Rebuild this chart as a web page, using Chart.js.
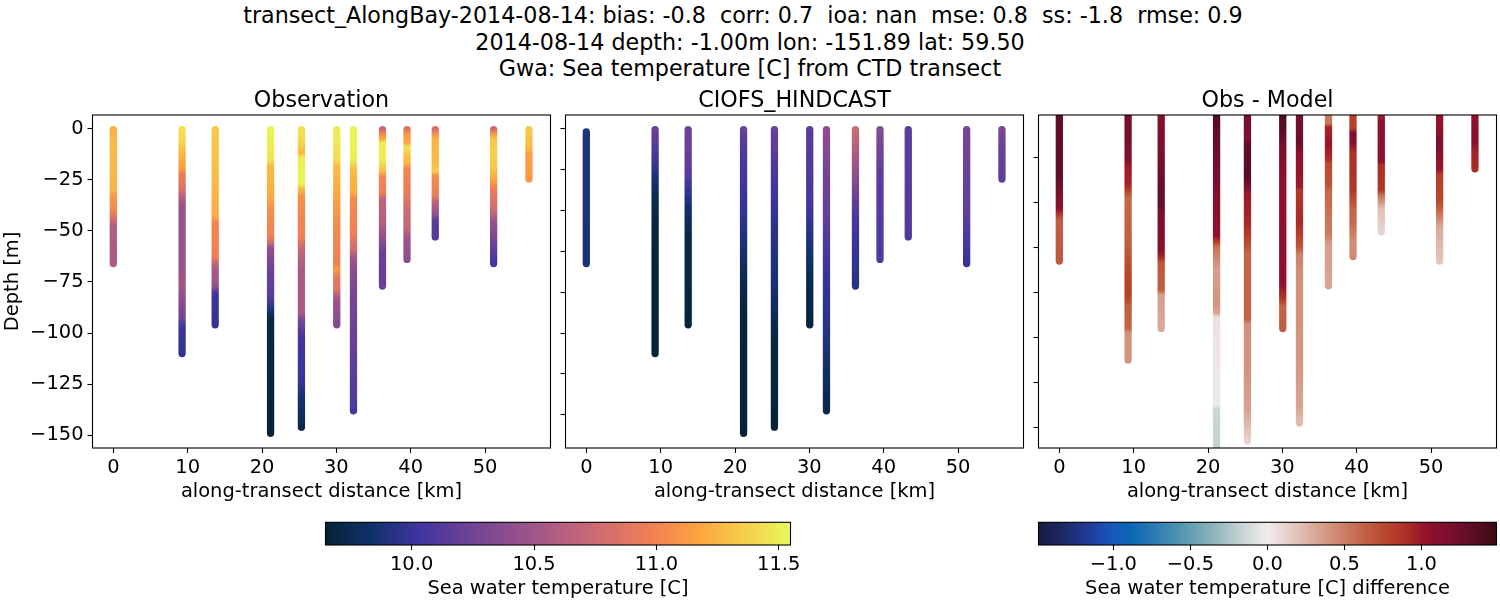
<!DOCTYPE html>
<html>
<head>
<meta charset="utf-8">
<title>transect_AlongBay</title>
<script src="https://cdn.jsdelivr.net/npm/chart.js"></script>
<style>
    body { margin: 0; background: #fff; width: 1500px; height: 600px; overflow: hidden; position: relative; }
    canvas { position: absolute; }
    #suptitle { position: absolute; left: 0; top: 2px; width: 1500px; text-align: center; white-space: pre;
        font: 22.22px/26.6px "DejaVu Sans", sans-serif; color: #000; }
</style>
</head>
<body>
<div id="suptitle">transect_AlongBay-2014-08-14: bias: -0.8  corr: 0.7  ioa: nan  mse: 0.8  ss: -1.8  rmse: 0.9  
2014-08-14 depth: -1.00m lon: -151.89 lat: 59.50
Gwa: Sea temperature [C] from CTD transect</div>
<canvas id="obs" width="552" height="418" style="left:0;top:86px"></canvas>
<canvas id="model" width="465" height="418" style="left:560px;top:86px"></canvas>
<canvas id="diff" width="465" height="418" style="left:1033px;top:86px"></canvas>
<canvas id="cbTemp" width="520" height="86" style="left:300px;top:515px"></canvas>
<canvas id="cbDiff" width="485" height="86" style="left:1015px;top:515px"></canvas>
<script>
// station positions along the transect [km]
const stationKm = [0, 9.25, 13.7, 21.15, 25.3, 30.05, 32.3, 36.2, 39.5, 43.3, 51.15, 55.9];

const xTicks = [0, 10, 20, 30, 40, 50];
const obsYTicks = [0, -25, -50, -75, -100, -125, -150];
const modelYTicks = [0, -20, -40, -60, -80, -100, -120, -140];
const diffYTicks = [-20, -40, -60, -80, -100, -120, -140];
const tempTicks = [10.0, 10.5, 11.0, 11.5];
const diffTicks = [-1.0, -0.5, 0.0, 0.5, 1.0];

const tempRange = [9.648, 11.548];
const diffRange = [-1.486, 1.487];

// colormaps (evenly spaced)
const thermalColors = ['#042333', '#10316b', '#3f35a0', '#6a4196', '#8f4f8d', '#b25e82', '#d26e6e', '#f17f54', '#fca33f', '#f6cd4c', '#e8fa5b'];
const balanceColors = ['#181c43', '#1d2862', '#20388f', '#1b52b8', '#0c66b8', '#2a7ab2', '#4a90b2', '#75a6b6', '#9fbcc2', '#cdd6d8', '#f1ecec',
    '#e6ccc4', '#d9aa9a', '#cf8a72', '#c4694b', '#ba4a2f', '#ae3025', '#93102e', '#78102e', '#5a0d24', '#3c0912'];

// Observation: depth [m] and temperature [C] read per station
const obsDepth = [
    [-0.5, -7, -30, -33, -40, -45, -47, -66],
    [-0.5, -7, -13, -19.5, -22, -30, -33, -37.5, -69, -77, -86, -93, -96, -102, -110],
    [-0.5, -7, -23.5, -43, -45.5, -62.7, -66, -69, -77, -80.5, -85, -96],
    [-0.5, -15.4, -18.6, -33, -40, -53, -57, -58, -66, -71, -82, -87, -89.5, -93.5, -149],
    [-0.5, -7, -11.5, -14.5, -27, -29, -33.5, -53, -59.5, -69, -90, -93.5, -102, -125, -130, -141, -146],
    [-0.5, -15.4, -18.6, -31.7, -44.8, -66, -69, -72.5, -79, -83, -96],
    [-0.5, -15.4, -20, -31.7, -34, -51, -59.5, -63, -69, -79, -102, -134.5, -138],
    [-0.5, -3, -5.5, -7, -15.4, -21, -23.5, -31.7, -34, -46, -56, -61, -72.5, -77],
    [-0.5, -2.4, -7, -9, -13, -17, -19.5, -31.7, -40, -49, -53, -61, -64],
    [-0.5, -2.4, -5.6, -17, -21, -22.7, -33, -36, -41.5, -45, -53],
    [-0.5, -1.5, -5, -12, -20, -26, -29, -40, -46, -53, -63, -66],
    [-0.5, -4, -10.5, -12, -24.7]
];
const obsTemp = [
    [11.22, 11.27, 11.25, 11.12, 11.02, 10.75, 10.6, 10.55],
    [11.45, 11.38, 11.24, 11.14, 10.97, 10.8, 10.65, 10.45, 10.45, 10.5, 10.35, 10.25, 10.05, 10.0, 9.98],
    [11.34, 11.32, 11.28, 11.2, 11.02, 10.97, 10.7, 10.55, 10.45, 10.05, 10.0, 9.98],
    [11.53, 11.45, 11.28, 11.2, 11.06, 10.97, 10.65, 10.45, 10.3, 10.2, 10.15, 9.98, 9.85, 9.7, 9.68],
    [11.45, 11.4, 11.25, 11.5, 11.52, 11.32, 11.07, 10.97, 10.7, 10.55, 10.55, 10.3, 10.05, 10.0, 9.88, 9.78, 9.72],
    [11.5, 11.42, 11.28, 11.2, 11.05, 10.97, 11.12, 10.9, 10.85, 10.5, 10.35],
    [11.52, 11.5, 11.28, 11.2, 11.04, 10.97, 10.75, 10.5, 10.4, 10.3, 10.22, 10.1, 10.05],
    [10.75, 11.05, 11.24, 11.5, 11.48, 11.28, 11.02, 10.97, 10.7, 10.6, 10.35, 10.22, 10.2, 10.2],
    [10.85, 11.1, 11.18, 11.45, 11.32, 11.24, 11.02, 10.92, 10.75, 10.7, 10.5, 10.45, 10.4],
    [10.8, 11.05, 11.24, 11.28, 11.36, 11.07, 10.92, 10.65, 10.45, 10.15, 10.12],
    [10.75, 11.0, 11.32, 11.38, 11.32, 11.14, 10.97, 10.75, 10.45, 10.3, 10.1, 10.05],
    [11.34, 11.32, 11.26, 11.16, 11.12]
];

// CIOFS_HINDCAST
const modelDepth = [
    [-1.6, -66],
    [-0.5, -10.5, -17, -23.5, -33, -45, -56, -110],
    [-0.5, -12, -23.5, -30, -40, -53, -72.5, -96],
    [-0.5, -7, -23.5, -40, -56, -72.5, -90, -149],
    [-0.5, -15, -32, -48, -72.5, -100, -146],
    [-0.5, -30, -40, -48, -61, -72.5, -96],
    [-0.5, -10.5, -23.5, -40, -56, -72.5, -100, -120, -138],
    [-0.5, -7, -20, -32, -43, -56, -72.5, -77],
    [-0.5, -10.5, -23.5, -64],
    [-0.5, -30, -53],
    [-0.5, -23.5, -40, -56, -66],
    [-0.5, -10, -24.7]
];
const modelTemp = [
    [9.9, 9.88],
    [10.22, 10.1, 10.0, 9.88, 9.76, 9.7, 9.67, 9.66],
    [10.25, 10.2, 10.12, 9.98, 9.82, 9.72, 9.7, 9.67],
    [10.22, 10.12, 10.05, 9.98, 9.88, 9.75, 9.68, 9.65],
    [10.22, 10.12, 10.02, 9.95, 9.88, 9.7, 9.66],
    [10.15, 10.08, 10.03, 9.95, 9.85, 9.75, 9.68],
    [10.4, 10.35, 10.25, 10.2, 10.1, 10.0, 9.92, 9.8, 9.72],
    [10.75, 10.65, 10.45, 10.25, 10.08, 10.0, 9.95, 9.92],
    [10.35, 10.27, 10.15, 10.1],
    [10.15, 10.13, 10.1],
    [10.28, 10.22, 10.18, 10.06, 9.98],
    [10.3, 10.22, 10.15]
];

// Obs - Model
const diffDepth = [
    [-0.5, -10, -26.5, -37, -43, -45.5, -47.8, -66],
    [-0.5, -21, -24, -32, -34.5, -38, -58, -73, -81.8, -86, -96, -98, -110],
    [-0.5, -13.7, -28.5, -40, -46, -61, -64, -67, -79, -81, -96],
    [-0.5, -8, -18, -28, -40, -55, -57, -60, -70, -85, -89, -91, -115, -130, -132, -150],
    [-0.5, -11, -15, -28, -33, -36, -49, -58, -62, -92, -94, -115, -132, -146],
    [-0.5, -8, -14, -28, -43, -58, -73, -76, -80, -83.5, -86, -96],
    [-0.5, -13.7, -18, -33, -34.5, -49, -54, -60, -63, -73, -115, -131, -138],
    [-0.5, -5, -6.5, -13.7, -21, -22.5, -33, -34.5, -55, -58, -77],
    [-0.5, -7, -9, -13.7, -18, -34.5, -43, -49, -58, -64],
    [-0.5, -4, -13.7, -22, -23, -34.5, -37, -43, -53],
    [-0.5, -8, -13.7, -18, -25, -28, -38.5, -43, -51, -66],
    [-0.5, -9, -13.7, -18, -25]
];
const diffValue = [
    [1.35, 1.3, 1.33, 1.15, 1.05, 0.8, 0.65, 0.68],
    [1.2, 1.15, 1.0, 0.95, 0.8, 0.6, 0.65, 0.78, 0.8, 0.65, 0.62, 0.4, 0.4],
    [1.1, 1.15, 1.25, 1.3, 1.15, 1.1, 0.95, 0.68, 0.65, 0.35, 0.3],
    [1.4, 1.3, 1.25, 1.2, 1.1, 1.05, 0.85, 0.55, 0.35, 0.4, 0.32, 0.05, 0.03, -0.02, -0.15, -0.18],
    [1.2, 1.15, 1.3, 1.35, 1.2, 1.0, 0.92, 0.75, 0.62, 0.62, 0.42, 0.4, 0.33, 0.12],
    [1.4, 1.35, 1.2, 1.08, 1.05, 1.08, 1.05, 1.05, 0.95, 0.8, 0.62, 0.65],
    [1.2, 1.25, 1.05, 1.0, 0.85, 0.92, 0.8, 0.68, 0.48, 0.42, 0.38, 0.32, 0.22],
    [0.5, 0.55, 0.95, 1.02, 0.9, 0.75, 0.68, 0.6, 0.5, 0.35, 0.32],
    [0.8, 0.8, 1.15, 1.1, 0.9, 0.85, 0.62, 0.58, 0.42, 0.45],
    [0.92, 1.1, 1.05, 1.1, 0.9, 0.85, 0.55, 0.2, 0.12],
    [1.02, 1.05, 1.2, 1.1, 1.02, 0.8, 0.78, 0.62, 0.3, 0.18],
    [1.05, 1.1, 1.08, 0.95, 0.92]
];

Chart.defaults.font.family = '"DejaVu Sans", sans-serif';
Chart.defaults.color = '#000';
Chart.defaults.animation = false;

// draws the black box around the plot area
const framePlugin = {
    id: 'frame',
    afterDatasetsDraw: function(chart) {
        const a = chart.chartArea;
        const ctx = chart.ctx;
        ctx.save();
        ctx.strokeStyle = '#000';
        ctx.lineWidth = 1.1;
        ctx.strokeRect(a.left, a.top, a.right - a.left, a.bottom - a.top);
        ctx.restore();
    }
};

function hexToRgb(hex) {
    return [1, 3, 5].map(i => parseInt(hex.substr(i, 2), 16));
}

function colorFor(value, range, colors) {
    const t = Math.min(1, Math.max(0, (value - range[0]) / (range[1] - range[0]))) * (colors.length - 1);
    const i = Math.min(colors.length - 2, Math.floor(t));
    const a = hexToRgb(colors[i]);
    const b = hexToRgb(colors[i + 1]);
    const c = a.map((v, k) => Math.round(v + (b[k] - v) * (t - i)));
    return `rgb(${c[0]},${c[1]},${c[2]})`;
}

function fixedTicks(values) {
    return function(scale) {
        scale.ticks = values.map(v => ({ value: v }));
    };
}

function minusLabel(decimals) {
    return function(value) {
        return value.toFixed(decimals).replace('-', '\u2212');
    };
}

// vertical gradient along one station, coloured through the chart's own y scale
function stationGradient(chart, depth, values, range, colors) {
    if (!chart.chartArea) return '#000';
    const y = chart.scales.y;
    const y0 = y.getPixelForValue(depth[0]);
    const y1 = y.getPixelForValue(depth[depth.length - 1]);
    const gradient = chart.ctx.createLinearGradient(0, y0, 0, y1);
    depth.forEach((d, i) => {
        const stop = (y.getPixelForValue(d) - y0) / (y1 - y0);
        gradient.addColorStop(stop, colorFor(values[i], range, colors));
    });
    return gradient;
}

function makePanel(id, title, depth, values, range, colors, yMin, yMax, yTicks, showY, paddingLeft) {
    const datasets = stationKm.map((km, s) => ({
        data: depth[s].map(d => ({ x: km, y: d })),
        showLine: true,
        pointRadius: 0,
        borderWidth: 7.3,
        borderCapStyle: 'round',
        borderJoinStyle: 'round',
        clip: 0,
        borderColor: function(context) {
            return stationGradient(context.chart, depth[s], values[s], range, colors);
        }
    }));

    return new Chart(document.getElementById(id), {
        type: 'scatter',
        data: { datasets: datasets },
        plugins: [framePlugin],
        options: {
            responsive: false,
            layout: { padding: { left: paddingLeft, right: 1.5, top: 0, bottom: 0 } },
            plugins: {
                legend: { display: false },
                tooltip: { enabled: false },
                title: {
                    display: true,
                    text: title,
                    fullSize: false,
                    font: { size: 22.22, weight: 'normal' },
                    padding: { top: 2, bottom: 0.34 }
                }
            },
            scales: {
                x: {
                    type: 'linear',
                    min: -2.8,
                    max: 58.8,
                    afterBuildTicks: fixedTicks(xTicks),
                    afterFit: function(scale) { scale.height = 56; },
                    border: { display: false },
                    grid: { drawOnChartArea: false, tickLength: 5, tickColor: '#000', tickWidth: 1.1 },
                    ticks: { autoSkip: false, maxRotation: 0, padding: 3, font: { size: 19.44 }, callback: minusLabel(0) },
                    title: { display: true, text: 'along-transect distance [km]', font: { size: 19.44 }, padding: 0 }
                },
                y: {
                    min: yMin,
                    max: yMax,
                    afterBuildTicks: fixedTicks(yTicks),
                    afterFit: function(scale) { scale.width = showY ? 91.5 : 5.5; },
                    border: { display: false },
                    grid: { drawOnChartArea: false, tickLength: 5, tickColor: '#000', tickWidth: 1.1 },
                    ticks: {
                        display: showY,
                        autoSkip: false,
                        padding: 4,
                        font: { size: 19.44 },
                        callback: minusLabel(0)
                    },
                    title: { display: showY, text: 'Depth [m]', font: { size: 19.44 }, padding: 0 }
                }
            }
        }
    });
}

function makeColorbar(id, label, range, colors, ticks, padding) {
    return new Chart(document.getElementById(id), {
        type: 'bar',
        data: {
            labels: [label],
            datasets: [{
                data: [range],
                barPercentage: 1,
                categoryPercentage: 1,
                backgroundColor: function(context) {
                    const chart = context.chart;
                    if (!chart.chartArea) return '#000';
                    const x = chart.scales.x;
                    const gradient = chart.ctx.createLinearGradient(x.getPixelForValue(range[0]), 0, x.getPixelForValue(range[1]), 0);
                    colors.forEach((c, i) => gradient.addColorStop(i / (colors.length - 1), c));
                    return gradient;
                }
            }]
        },
        plugins: [framePlugin],
        options: {
            responsive: false,
            indexAxis: 'y',
            layout: { padding: padding },
            plugins: { legend: { display: false }, tooltip: { enabled: false } },
            scales: {
                y: { display: false },
                x: {
                    type: 'linear',
                    min: range[0],
                    max: range[1],
                    afterBuildTicks: fixedTicks(ticks),
                    afterFit: function(scale) { scale.height = 56; },
                    border: { display: false },
                    grid: { drawOnChartArea: false, tickLength: 5, tickColor: '#000', tickWidth: 1.1 },
                    ticks: { autoSkip: false, maxRotation: 0, padding: 3, font: { size: 19.44 }, callback: minusLabel(1) },
                    title: { display: true, text: label, font: { size: 19.44 }, padding: 0 }
                }
            }
        }
    });
}

makePanel('obs', 'Observation', obsDepth, obsTemp, tempRange, thermalColors, -156.2, 6.6, obsYTicks, true, 1);
makePanel('model', 'CIOFS_HINDCAST', modelDepth, modelTemp, tempRange, thermalColors, -156.2, 6.6, modelYTicks, false, 0);
makePanel('diff', 'Obs - Model', diffDepth, diffValue, diffRange, balanceColors, -149.1, -1.1, diffYTicks, false, 0);
makeColorbar('cbTemp', 'Sea water temperature [C]', tempRange, thermalColors, tempTicks, { left: 25.5, right: 29.5, top: 7.3, bottom: 0 });
makeColorbar('cbDiff', 'Sea water temperature [C] difference', diffRange, balanceColors, diffTicks, { left: 23.5, right: 3.5, top: 7.3, bottom: 0 });
</script>
</body>
</html>
